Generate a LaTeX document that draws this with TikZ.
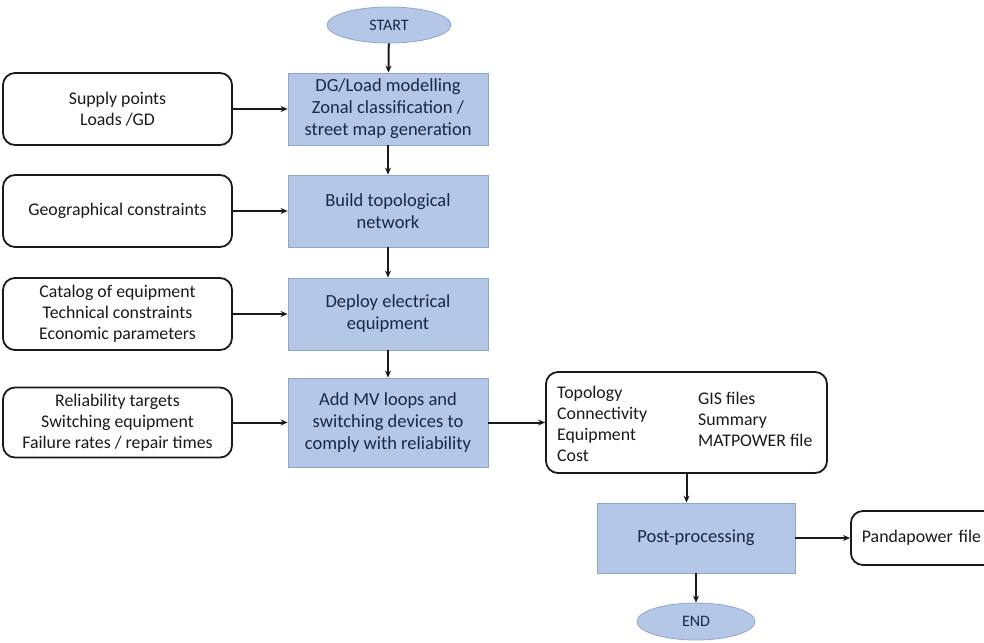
\documentclass[tikz,border=0pt]{standalone}
\usepackage{fontspec}
\setmainfont{Carlito}
\usetikzlibrary{shapes.geometric,arrows.meta}
\definecolor{boxblue}{HTML}{B4C7E7}
\definecolor{boxedge}{HTML}{8FA6CC}
\definecolor{navy}{HTML}{1A2744}
\definecolor{ink}{HTML}{1A1A1A}
\begin{document}
\begin{tikzpicture}[x=1pt,y=-1pt,
  proc/.style={draw=boxedge, line width=0.8pt, fill=boxblue, text=navy, align=center,
    font=\fontsize{18.5}{22}\selectfont, inner sep=0pt, minimum width=200pt},
  inbox/.style={draw=ink, line width=1.8pt, rounded corners=12pt, fill=white, text=ink,
    align=center, font=\fontsize{17.8}{21}\selectfont, inner sep=0pt},
  txt/.style={text=ink, align=left, font=\fontsize{17.8}{21}\selectfont, inner sep=0pt, anchor=west},
  term/.style={ellipse, draw=boxedge, line width=0.8pt, fill=boxblue, text=navy,
    font=\fontsize{16}{18}\selectfont, inner sep=0pt},
  arr/.style={-{Stealth[length=7pt,width=6pt]}, line width=2pt, draw=ink}]
\useasboundingbox (0,0) rectangle (984,642);

% terminals
\node[term, minimum width=124pt, minimum height=36pt] (start) at (389,25) {START};
\node[term, minimum width=118pt, minimum height=37pt] (end) at (696,621.5) {END};

% process boxes
\node[proc, minimum height=72pt] (b1) at (388,109) {DG/Load modelling\\Zonal classification /\\street map generation};
\node[proc, minimum height=72pt] (b2) at (388,211) {Build topological\\network};
\node[proc, minimum height=72pt] (b3) at (388,314) {Deploy electrical\\equipment};
\node[proc, minimum height=89pt] (b4) at (388,422.5) {Add MV loops and\\switching devices to\\comply with reliability};
\node[proc, minimum width=198pt, minimum height=70pt] (post) at (696,538) {Post-processing};

% input boxes
\node[inbox, minimum width=229pt, minimum height=72pt] (i1) at (117.5,109) {Supply points\\Loads /GD};
\node[inbox, minimum width=229pt, minimum height=72pt] (i2) at (117.5,211) {Geographical constraints};
\node[inbox, minimum width=229pt, minimum height=72pt] (i3) at (117.5,314) {Catalog of equipment\\Technical constraints\\Economic parameters};
\node[inbox, minimum width=229pt, minimum height=70pt] (i4) at (117.5,422.5) {Reliability targets\\Switching equipment\\Failure rates / repair times};

% output boxes
\node[inbox, minimum width=281pt, minimum height=101pt] (out) at (686.5,422.5) {};
\node[txt] (outl) at (557,424) {Topology\\Connectivity\\Equipment\\Cost};
\node[txt] (outr) at (698,419) {GIS files\\Summary\\MATPOWER file};
\node[inbox, minimum width=150pt, minimum height=54pt, anchor=west, text width=140pt, align=left] (panda) at (850,538) {\hspace*{6pt}Pandapower file};

% connectors
\draw[arr] (start) -- (b1);
\draw[arr] (b1) -- (b2);
\draw[arr] (b2) -- (b3);
\draw[arr] (b3) -- (b4);
\draw[arr] (i1) -- (b1);
\draw[arr] (i2) -- (b2);
\draw[arr] (i3) -- (b3);
\draw[arr] (i4) -- (b4);
\draw[arr] (b4) -- (out);
\draw[arr] (out.south) -- (out.south |- post.north);
\draw[arr] (post) -- (panda);
\draw[arr] (post) -- (end);
\end{tikzpicture}
\end{document}
